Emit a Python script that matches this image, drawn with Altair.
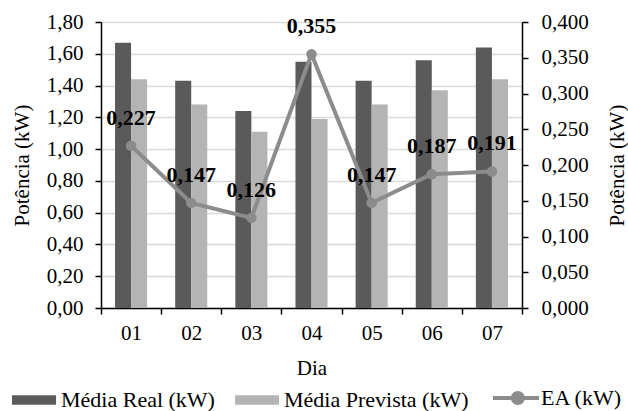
import altair as alt
import pandas as pd

# Daily averages of power (kW) and absolute error EA (kW)
dias = ["01", "02", "03", "04", "05", "06", "07"]
media_real = [1.67, 1.43, 1.24, 1.55, 1.43, 1.56, 1.64]
media_prevista = [1.44, 1.28, 1.11, 1.19, 1.28, 1.37, 1.44]
ea = [0.227, 0.147, 0.126, 0.355, 0.147, 0.187, 0.191]

series_barras = ["Média Real (kW)", "Média Prevista (kW)"]
cores_barras = ["#5a5a5a", "#b4b4b4"]
serie_linha = "EA (kW)"
cor_linha = "#8c8c8c"

ticks_pot = [0, 0.2, 0.4, 0.6, 0.8, 1.0, 1.2, 1.4, 1.6, 1.8]
ticks_ea = [0, 0.05, 0.1, 0.15, 0.2, 0.25, 0.3, 0.35, 0.4]

FONT = "'Liberation Serif', 'Times New Roman', serif"

bars_df = pd.DataFrame({
    "Dia": dias * 2,
    "Serie": [series_barras[0]] * len(dias) + [series_barras[1]] * len(dias),
    "Valor": media_real + media_prevista,
})
line_df = pd.DataFrame({"Dia": dias, "EA": ea, "Serie": serie_linha})

x_enc = alt.X(
    "Dia:N",
    sort=dias,
    scale=alt.Scale(paddingInner=0, paddingOuter=0),
    axis=alt.Axis(
        title="Dia", labelAngle=0, tickBand="extent", grid=False,
        labelPadding=8, titleX=210.5, titleY=60, titleBaseline="middle",
    ),
)

y_pot = alt.Y(
    "Valor:Q",
    scale=alt.Scale(domain=[0, 1.8], nice=False),
    axis=alt.Axis(
        title="Potência (kW)", values=ticks_pot, grid=True,
        labelExpr="replace(format(datum.value, '.2f'), '.', ',')",
        labelPadding=12, titleX=-79, titleY=143, titleAngle=-90,
        titleAlign="center", titleBaseline="middle",
    ),
)

y_ea = alt.Y(
    "EA:Q",
    scale=alt.Scale(domain=[0, 0.4], nice=False),
    axis=alt.Axis(
        title="Potência (kW)", orient="right", values=ticks_ea, grid=False,
        labelExpr="replace(format(datum.value, '.3f'), '.', ',')",
        labelPadding=13, titleX=95, titleY=143, titleAngle=-90,
        titleAlign="center", titleBaseline="middle",
    ),
)

bars = alt.Chart(bars_df).mark_bar().encode(
    x=x_enc,
    xOffset=alt.XOffset(
        "Serie:N", sort=series_barras,
        scale=alt.Scale(domain=series_barras, paddingInner=0, paddingOuter=0.875),
    ),
    y=y_pot,
    fill=alt.Fill(
        "Serie:N", sort=series_barras,
        scale=alt.Scale(domain=series_barras, range=cores_barras),
        legend=alt.Legend(
            title=None, orient="none", legendX=-89, legendY=356,
            direction="horizontal", padding=0,
            symbolType="M-1,-0.22H1V0.22H-1Z", symbolSize=44 * 44,
            symbolStrokeWidth=0, labelOffset=5, columnPadding=20,
            labelFont=FONT, labelFontSize=22, labelColor="black", labelLimit=300,
        ),
    ),
)

line = alt.Chart(line_df).mark_line(strokeWidth=4).encode(
    x=x_enc,
    y=y_ea,
    stroke=alt.Stroke(
        "Serie:N",
        scale=alt.Scale(domain=[serie_linha], range=[cor_linha]),
        legend=alt.Legend(
            title=None, orient="none", legendX=390, legendY=351,
            direction="horizontal", padding=0,
            symbolType="M-1,0H1M0.3,0A0.22,0.22,0,1,1,-0.14,0A0.22,0.22,0,1,1,0.3,0Z",
            symbolSize=46 * 46, symbolStrokeWidth=4,
            symbolFillColor=cor_linha, symbolStrokeColor=cor_linha,
            labelOffset=0, labelFont=FONT, labelFontSize=22,
            labelColor="black", labelLimit=300,
        ),
    ),
)

points = alt.Chart(line_df).mark_point(
    filled=True, size=110, color=cor_linha, opacity=1
).encode(x=x_enc, y=y_ea)

labels = alt.Chart(line_df).transform_calculate(
    rotulo="replace(format(datum.EA, '.3f'), '.', ',')"
).mark_text(
    dy=-28, font=FONT, fontSize=22, fontWeight="bold", color="black"
).encode(x=x_enc, y=y_ea, text="rotulo:N")

chart = alt.layer(
    bars, alt.layer(line, points, labels)
).resolve_scale(
    y="independent", fill="independent", stroke="independent"
).properties(
    width=421,
    height=286,
    padding={"left": 101, "top": 22, "right": 106, "bottom": 103},
    autosize=alt.AutoSizeParams(type="none"),
    background="white",
).configure_view(
    stroke=None
).configure_axis(
    domainColor="black", domainWidth=1.5, tickColor="black", tickWidth=1.5,
    tickSize=6, gridColor="#d9d9d9", gridWidth=1.5,
    labelFont=FONT, labelFontSize=21, labelColor="black",
    titleFont=FONT, titleFontSize=21, titleFontWeight="normal", titleColor="black",
)

chart.save("out.html", embed_options={"renderer": "svg", "actions": False})
